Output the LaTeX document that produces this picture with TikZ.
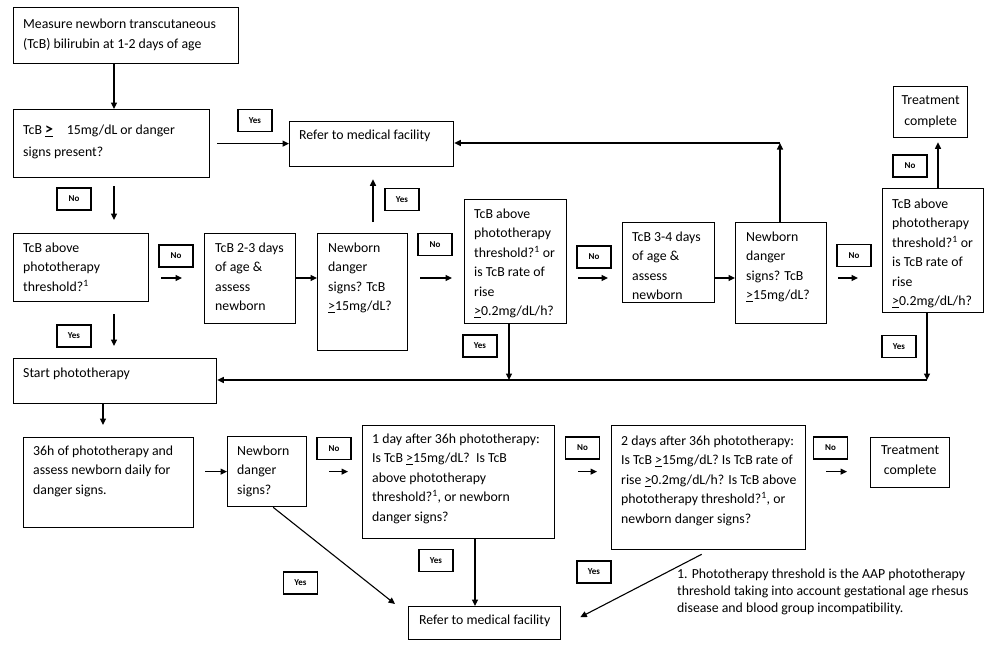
\documentclass[tikz,border=0pt]{standalone}
\usepackage{fontspec}
\setmainfont{Carlito}
\usetikzlibrary{arrows.meta}
\begin{document}
\begin{tikzpicture}[x=1pt,y=-1pt,
 box/.style={draw, line width=1.3pt, anchor=north west, inner sep=0pt},
 txt/.style={inner sep=0pt, anchor=north west, align=left, font=\fontsize{13.8}{19.5}\selectfont},
 ctxt/.style={inner sep=0pt, anchor=north, align=center, font=\fontsize{13.8}{19.5}\selectfont},
 lbl/.style={draw, line width=1.1pt, minimum width=34pt, minimum height=22pt, inner sep=0pt, font=\fontsize{9}{10}\selectfont\bfseries},
 arr/.style={line width=1.1pt, -{Triangle[length=6.5pt,width=6pt]}}]
\useasboundingbox (0,0) rectangle (1000,662);
% boxes
\node[box, minimum width=225pt, minimum height=56pt] (m) at (13,7) {};
\node[box, minimum width=196pt, minimum height=68pt] (q0) at (13,109) {};
\node[box, minimum width=164pt, minimum height=45pt] (rt) at (289,121) {};
\node[box, minimum width=74pt, minimum height=51pt] (tt) at (893,86) {};
\node[box, minimum width=135pt, minimum height=68pt] (th) at (13,233) {};
\node[box, minimum width=91pt, minimum height=90pt] (d23) at (204,233) {};
\node[box, minimum width=90pt, minimum height=117pt] (nb1) at (317,233) {};
\node[box, minimum width=102pt, minimum height=124pt] (q1) at (464,199) {};
\node[box, minimum width=92pt, minimum height=80pt] (d34) at (622,222) {};
\node[box, minimum width=91pt, minimum height=101pt] (nb2) at (735,222) {};
\node[box, minimum width=101pt, minimum height=124pt] (q2) at (882,188) {};
\node[box, minimum width=203pt, minimum height=45pt] (sp) at (13,358) {};
\node[box, minimum width=170pt, minimum height=90pt] (h36) at (23,437) {};
\node[box, minimum width=79pt, minimum height=70pt] (nb3) at (227,436) {};
\node[box, minimum width=192pt, minimum height=113pt] (a1) at (362,425) {};
\node[box, minimum width=194pt, minimum height=124pt] (a2) at (611,425) {};
\node[box, minimum width=79pt, minimum height=50pt] (tb) at (870,437) {};
\node[box, minimum width=152pt, minimum height=33pt] (rb) at (408,606) {};
% texts
\node[txt] (mt) at ([xshift=10pt,yshift=-11.6pt]m.north west) {Measure newborn transcutaneous\\[0.5pt](TcB) bilirubin at 1-2 days of age};
\node[txt] (q0t) at ([xshift=10pt,yshift=-15.6pt]q0.north west) {TcB {\fontsize{16}{16}\selectfont\underline{\textbf{>}}}\quad15mg/dL or danger\\[3pt]signs present?};
\node[txt] (rtt) at ([xshift=10pt,yshift=-8.6pt]rt.north west) {Refer to medical facility};
\node[ctxt] (ttt) at ([yshift=-9.6pt]tt.north) {Treatment\\[1.5pt]complete};
\node[txt] (tht) at ([xshift=10pt,yshift=-9.6pt]th.north west) {TcB above\\phototherapy\\threshold?\textsuperscript{1}};
\node[txt] (d23t) at ([xshift=11pt,yshift=-9.6pt]d23.north west) {TcB 2-3 days\\of age \&\\assess\\newborn};
\node[txt] (nb1t) at ([xshift=11pt,yshift=-9.6pt]nb1.north west) {Newborn\\danger\\signs? TcB\\\underline{>}15mg/dL?};
\node[txt] (q1t) at ([xshift=10pt,yshift=-9.6pt]q1.north west) {TcB above\\phototherapy\\threshold?\textsuperscript{1} or\\is TcB rate of\\rise\\\underline{>}0.2mg/dL/h?};
\node[txt] (d34t) at ([xshift=10pt,yshift=-9.6pt]d34.north west) {TcB 3-4 days\\of age \&\\assess\\newborn};
\node[txt] (nb2t) at ([xshift=11pt,yshift=-9.6pt]nb2.north west) {Newborn\\danger\\signs? TcB\\\underline{>}15mg/dL?};
\node[txt] (q2t) at ([xshift=10pt,yshift=-10.6pt]q2.north west) {TcB above\\phototherapy\\threshold?\textsuperscript{1} or\\is TcB rate of\\rise\\\underline{>}0.2mg/dL/h?};
\node[txt] (spt) at ([xshift=10pt,yshift=-9.6pt]sp.north west) {Start phototherapy};
\node[txt] (h36t) at ([xshift=10pt,yshift=-8.6pt]h36.north west) {36h of phototherapy and\\assess newborn daily for\\danger signs.};
\node[txt] (nb3t) at ([xshift=10pt,yshift=-9.6pt]nb3.north west) {Newborn\\danger\\signs?};
\node[txt] (a1t) at ([xshift=10pt,yshift=-8.6pt]a1.north west) {1 day after 36h phototherapy:\\Is TcB \underline{>}15mg/dL?\ \ Is TcB\\above phototherapy\\threshold?\textsuperscript{1}, or newborn\\danger signs?};
\node[txt] (a2t) at ([xshift=10pt,yshift=-10.6pt]a2.north west) {2 days after 36h phototherapy:\\Is TcB \underline{>}15mg/dL? Is TcB rate of\\rise \underline{>}0.2mg/dL/h? Is TcB above\\phototherapy threshold?\textsuperscript{1}, or\\newborn danger signs?};
\node[ctxt] (tbt) at ([yshift=-8.6pt]tb.north) {Treatment\\[0.5pt]complete};
\node[ctxt] (rbt) at ([yshift=-9pt]rb.north) {Refer to medical facility};
\node[inner sep=0pt, anchor=north west, align=left, font=\fontsize{13.8}{17}\selectfont] (fn) at (677,569) {1. Phototherapy threshold is the AAP phototherapy\\threshold taking into account gestational age rhesus\\disease and blood group incompatibility.};
% labels
\node[lbl] (y1) at (255,120.5) {Yes};
\node[lbl] (n1) at (74,199) {No};
\node[lbl] (n2) at (176,256) {No};
\node[lbl] (y2) at (74,336) {Yes};
\node[lbl] (y3) at (402,199.5) {Yes};
\node[lbl] (n3) at (435,244.5) {No};
\node[lbl] (n4) at (594,257) {No};
\node[lbl] (n5) at (854,255.5) {No};
\node[lbl] (n6) at (910,166) {No};
\node[lbl] (y4) at (480,346) {Yes};
\node[lbl] (y5) at (899,346.5) {Yes};
\node[lbl] (n7) at (334,448.5) {No};
\node[lbl] (n8) at (582.5,448) {No};
\node[lbl] (n9) at (830.5,448) {No};
\node[lbl] (y6) at (436,560.5) {Yes};
\node[lbl] (y7) at (300.5,583) {Yes};
\node[lbl] (y8) at (594,572) {Yes};
% helper coordinates
\coordinate (x114) at (114,0);
\coordinate (x373) at (373,0);
\coordinate (y278) at (0,278);
\coordinate (j1) at (780,143);
\coordinate (x938) at (938,0);
\coordinate (j2) at (927,380);
\coordinate (j3) at (509,380);
\coordinate (x103) at (103,0);
\coordinate (x475) at (475,0);
% connectors
\draw[arr] (m.south -| x114) -- (q0.north -| x114);
\draw[arr, shorten <=7pt] (q0.east) -- (q0.east -| rt.west);
\draw[arr, shorten <=8pt, shorten >=13pt] (q0.south -| x114) -- (th.north -| x114);
\draw[arr, shorten <=12pt, shorten >=22pt] (th.east |- y278) -- (d23.west |- y278);
\draw[arr, shorten <=12pt, shorten >=12pt] (th.south -| x114) -- (sp.north -| x114);
\draw[arr] (d23.east |- y278) -- (nb1.west |- y278);
\draw[arr, shorten <=11pt, shorten >=12pt] (nb1.north -| x373) -- (rt.south -| x373);
\draw[arr, shorten <=12pt, shorten >=12pt] (nb1.east |- y278) -- (q1.west |- y278);
\draw[arr, shorten <=11pt, shorten >=14pt] (q1.east |- y278) -- (d34.west |- y278);
\draw[arr] (d34.east |- y278) -- (nb2.west |- y278);
\draw[arr] (nb2.north -| j1) -- (j1);
\draw[arr] (j1) -- (j1 -| rt.east);
\draw[arr, shorten <=11pt, shorten >=24pt] (nb2.east |- y278) -- (q2.west |- y278);
\draw[arr, shorten >=4pt] (q2.north -| x938) -- (tt.south -| x938);
\draw[arr] (q2.south -| j2) -- (j2);
\draw[arr] (j2) -- (j2 -| sp.east);
\draw[arr] (q1.south -| j3) -- (j3);
\draw[arr, shorten >=12pt] (sp.south -| x103) -- (h36.north -| x103);
\draw[arr, shorten <=11pt] (nb3.west -| h36.east) -- (nb3.west);
\draw[arr, shorten <=22pt, shorten >=14pt] (nb3.east) -- (nb3.east -| a1.west);
\draw[arr, shorten <=23pt, shorten >=14pt] (nb3.east -| a1.east) -- (nb3.east -| a2.west);
\draw[arr, shorten <=20pt, shorten >=23pt] (nb3.east -| a2.east) -- (nb3.east -| tb.west);
\draw[arr] ([xshift=6pt]nb3.south) -- ([xshift=-13pt,yshift=2pt]rb.north west);
\draw[arr] (a1.south -| x475) -- (rb.north -| x475);
\draw[arr] ([xshift=-7pt,yshift=-4pt]a2.south) -- ([xshift=19pt,yshift=6pt]rb.east);
\end{tikzpicture}
\end{document}
